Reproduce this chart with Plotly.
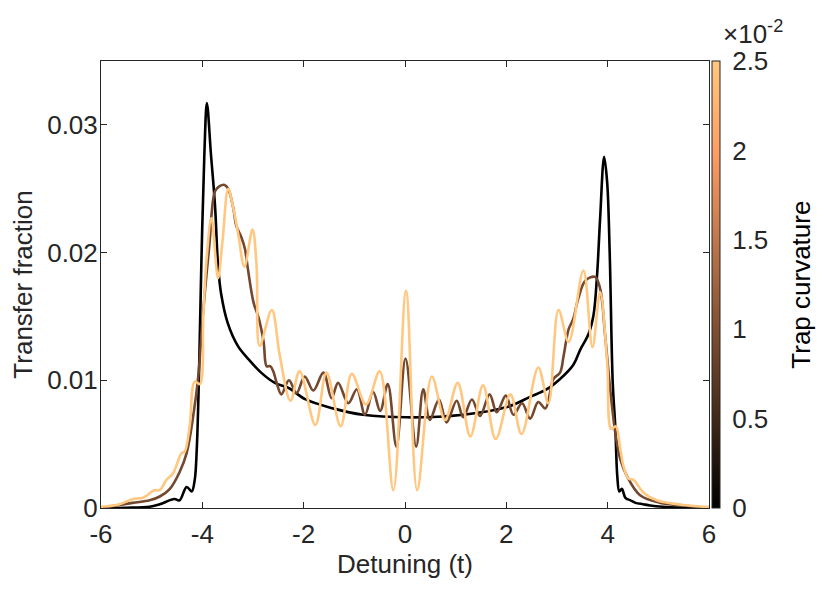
import plotly.graph_objects as go

# ---- data ----
curvatures = [0.0, 0.009, 0.025]   # trap curvature of each curve

black_x = [-6.0, -5.5, -5.04, -4.84, -4.55, -4.45, -4.31, -4.21, -4.15, -4.11, -4.07, -4.02,
           -3.96, -3.91, -3.83, -3.75, -3.69, -3.63, -3.50, -3.30, -3.10, -2.84, -2.57, -2.30,
           -1.96, -1.42, -0.83, 0.03, 1.15, 2.01, 2.47, 2.80, 3.06, 3.32, 3.46, 3.62, 3.72,
           3.79, 3.85, 3.93, 3.99, 4.04, 4.10, 4.15, 4.19, 4.23, 4.28, 4.35, 4.45, 4.55, 4.70,
           4.84, 5.4, 6.0]
black_y = [0.0, 0.00002, 0.0001, 0.0003, 0.0007, 0.0006, 0.00165, 0.0013, 0.0022, 0.0046, 0.0098, 0.0190,
           0.0277, 0.0317, 0.0277, 0.0237, 0.0190, 0.0168, 0.0145, 0.0127, 0.0117, 0.0106, 0.0098, 0.0094,
           0.0085, 0.0078, 0.0073, 0.0071, 0.0073, 0.0079, 0.0087, 0.0093, 0.0101, 0.0112, 0.0124, 0.0136, 0.0151,
           0.0182, 0.0226, 0.0275, 0.0255, 0.0200, 0.0098, 0.0064, 0.0025, 0.0013, 0.0015, 0.0008, 0.0006, 0.0004, 0.0003,
           0.0002, 0.00003, 0.0]

brown_x = [-6.0, -5.38, -5.04, -4.84, -4.64, -4.45, -4.31, -4.18, -4.08, -3.99, -3.92, -3.85, -3.82,
           -3.75, -3.66, -3.56, -3.49, -3.39, -3.33, -3.23, -3.16, -3.10, -2.99, -2.89, -2.79, -2.73,
           -2.66, -2.60, -2.54, -2.44, -2.29, -2.14, -1.98, -1.81, -1.61, -1.45, -1.32, -1.12, -0.95,
           -0.79, -0.63, -0.49, -0.34, -0.17, 0.01, 0.22, 0.36, 0.49, 0.67, 0.82, 1.02, 1.15, 1.32,
           1.48, 1.67, 1.81, 1.99, 2.14, 2.31, 2.47, 2.63, 2.77, 2.93, 3.06, 3.13, 3.23, 3.32, 3.42,
           3.56, 3.75, 3.85, 3.95, 4.05, 4.15, 4.25, 4.38, 4.64, 5.04, 5.49, 6.0]
brown_y = [0.0, 0.0004, 0.0006, 0.0009, 0.0015, 0.0028, 0.0043, 0.0072, 0.0103, 0.0151, 0.0182, 0.0211, 0.0229,
           0.0248, 0.0252, 0.0253, 0.0250, 0.0235, 0.0221, 0.0212, 0.0203, 0.0187, 0.0161, 0.0149, 0.0130, 0.0111,
           0.0111, 0.0107, 0.0099, 0.0089, 0.0100, 0.0090, 0.0103, 0.0092, 0.0106, 0.0086, 0.0098, 0.0082, 0.0093,
           0.0073, 0.0091, 0.0076, 0.0097, 0.0048, 0.0117, 0.0048, 0.0093, 0.0069, 0.0085, 0.0067, 0.0084, 0.0071, 0.0085,
           0.0072, 0.0089, 0.0075, 0.0088, 0.0073, 0.0082, 0.0070, 0.0083, 0.0078, 0.0101, 0.0106, 0.0119, 0.0140, 0.0148, 0.0164,
           0.0178, 0.0181, 0.0172, 0.0135, 0.0093, 0.0059, 0.0038, 0.0025, 0.0010, 0.0004, 0.0002, 0.0]

light_x = [-6.0, -5.63, -5.37, -5.17, -4.94, -4.84, -4.71, -4.58, -4.41, -4.35, -4.25, -4.15, -4.05,
           -3.98, -3.92, -3.82, -3.69, -3.60, -3.49, -3.39, -3.29, -3.17, -3.01, -2.93, -2.87, -2.63,
           -2.47, -2.26, -2.08, -1.77, -1.55, -1.27, -1.05, -0.77, -0.50, -0.23, 0.02, 0.24, 0.53,
           0.79, 1.04, 1.29, 1.54, 1.79, 2.08, 2.30, 2.63, 2.83, 3.03, 3.23, 3.52, 3.70, 3.85, 3.99,
           4.07, 4.16, 4.25, 4.31, 4.41, 4.51, 4.71, 4.97, 5.37, 5.89, 6.0]
light_y = [0.0001, 0.0003, 0.0007, 0.0008, 0.0014, 0.0014, 0.0022, 0.0027, 0.0043, 0.0044, 0.0064, 0.0099, 0.0097,
           0.0151, 0.0193, 0.0227, 0.0180, 0.0210, 0.0250, 0.0235, 0.0214, 0.0189, 0.0218, 0.0190, 0.0127, 0.0155,
           0.0119, 0.0084, 0.0107, 0.0065, 0.0106, 0.0064, 0.0105, 0.0081, 0.0107, 0.0014, 0.0170, 0.0014, 0.0103,
           0.0069, 0.0098, 0.0056, 0.0096, 0.0054, 0.0089, 0.0058, 0.0110, 0.0082, 0.0155, 0.0130, 0.0186, 0.0126, 0.0169, 0.0114,
           0.0062, 0.0064, 0.0046, 0.0033, 0.0023, 0.0022, 0.0012, 0.0006, 0.0003, 0.0001, 0.0001]

x_ticks = [-6, -4, -2, 0, 2, 4, 6]
x_tick_labels = ["-6", "-4", "-2", "0", "2", "4", "6"]
y_ticks = [0, 0.01, 0.02, 0.03]
y_tick_labels = ["0", "0.01", "0.02", "0.03"]
cb_ticks = [0, 0.5, 1, 1.5, 2, 2.5]          # in units of 1e-2
cb_tick_labels = ["0", "0.5", "1", "1.5", "2", "2.5"]
cb_max = 0.025


def copper(t):
    r = min(1.0, 1.25 * t)
    g = 0.7812 * t
    b = 0.4975 * t
    return "rgb(%d,%d,%d)" % (round(r * 255), round(g * 255), round(b * 255))


copper_scale = [[0.0, copper(0.0)], [0.8, copper(0.8)], [1.0, copper(1.0)]]

FONT = "Helvetica, Liberation Sans, Arial, sans-serif"
AX = "#262626"
FS = 26

fig = go.Figure()
for xs, ys, c in [(black_x, black_y, curvatures[0]),
                  (brown_x, brown_y, curvatures[1]),
                  (light_x, light_y, curvatures[2])]:
    fig.add_trace(go.Scatter(x=xs, y=ys, mode="lines",
                             line=dict(color=copper(c / cb_max), width=2.6, shape="spline", smoothing=1.0),
                             showlegend=False, hoverinfo="skip"))

# colour bar carrier (placed outside the visible y range)
fig.add_trace(go.Scatter(
    x=[0], y=[-1], mode="markers", showlegend=False, hoverinfo="skip",
    marker=dict(color=[0], colorscale=copper_scale, cmin=0, cmax=cb_ticks[-1], size=1,
                showscale=True,
                colorbar=dict(
                    thickness=8, len=1.0, lenmode="fraction", y=0.5, yanchor="middle",
                    x=1.005, xanchor="left", xpad=0, ypad=0,
                    outlinecolor=AX, outlinewidth=1,
                    tickmode="array", tickvals=cb_ticks, ticktext=cb_tick_labels,
                    ticks="outside", ticklen=7, tickcolor="white",
                    tickfont=dict(family=FONT, size=FS, color=AX),
                ))))

fig.add_annotation(xref="paper", yref="paper", x=1.15, y=0.5, xanchor="center", yanchor="middle",
                   text="Trap curvature", textangle=-90, showarrow=False,
                   font=dict(family=FONT, size=FS, color="black"))
fig.add_annotation(xref="paper", yref="paper", x=1.02, y=1.022, xanchor="left", yanchor="bottom",
                   text="×10<sup>-2</sup>", showarrow=False,
                   font=dict(family=FONT, size=FS, color=AX))

fig.update_layout(
    width=831, height=607,
    margin=dict(l=93, r=130, t=53, b=107, autoexpand=False),
    plot_bgcolor="white", paper_bgcolor="white",
    font=dict(family=FONT, size=FS, color=AX),
)
fig.update_xaxes(range=[-6, 6], tickvals=x_ticks, ticktext=x_tick_labels, ticks="inside", ticklen=6,
                 tickcolor=AX, showline=True, linecolor=AX, linewidth=1, mirror="ticks", showgrid=False,
                 zeroline=False, ticklabelstandoff=3,
                 tickfont=dict(family=FONT, size=FS, color=AX),
                 title=dict(text="Detuning (t)", font=dict(family=FONT, size=FS, color=AX), standoff=2))
fig.update_yaxes(range=[0, 0.035], tickvals=y_ticks, ticktext=y_tick_labels, ticks="inside", ticklen=6,
                 tickcolor=AX, showline=True, linecolor=AX, linewidth=1, mirror="ticks", showgrid=False,
                 zeroline=False, ticklabelstandoff=-3, tickfont=dict(family=FONT, size=FS, color=AX),
                 title=dict(text="Transfer fraction", font=dict(family=FONT, size=FS, color=AX), standoff=16))

fig.write_html("out.html")
